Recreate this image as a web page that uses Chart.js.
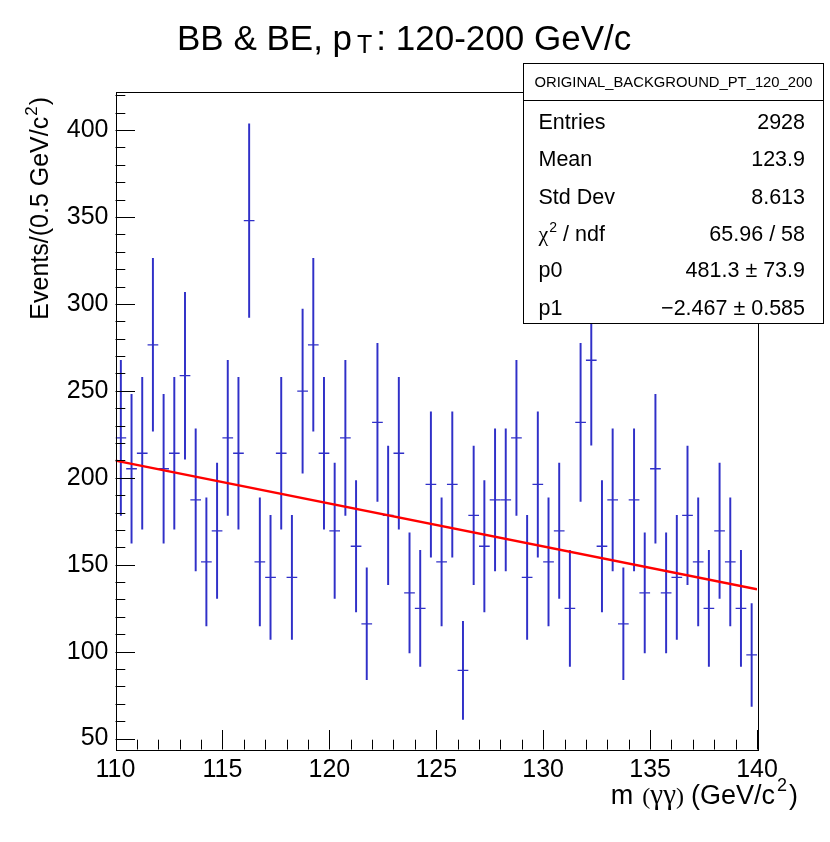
<!DOCTYPE html>
<html>
<head>
<meta charset="utf-8">
<script src="https://cdn.jsdelivr.net/npm/chart.js@4.4.1/dist/chart.umd.min.js"></script>
<style>
  html, body { margin: 0; padding: 0; background: #fff; }
  canvas { display: block; }
</style>
</head>
<body>
<canvas id="massChart" width="830" height="842" style="width:830px;height:842px"></canvas>
<script>
// bin centres of m(gg), 0.5 GeV wide bins
const binCenters = [
  110.25, 110.75, 111.25, 111.75, 112.25, 112.75, 113.25, 113.75, 114.25, 114.75,
  115.25, 115.75, 116.25, 116.75, 117.25, 117.75, 118.25, 118.75, 119.25, 119.75,
  120.25, 120.75, 121.25, 121.75, 122.25, 122.75, 123.25, 123.75, 124.25, 124.75,
  125.25, 125.75, 126.25, 126.75, 127.25, 127.75, 128.25, 128.75, 129.25, 129.75,
  130.25, 130.75, 131.25, 131.75, 132.25, 132.75, 133.25, 133.75, 134.25, 134.75,
  135.25, 135.75, 136.25, 136.75, 137.25, 137.75, 138.25, 138.75, 139.25, 139.75
];
const binWidth = 0.5;

// events per bin
const counts = [
  223.0, 205.2, 214.1, 276.5, 205.2, 214.1, 258.7, 187.3, 151.6, 169.5,
  223.0, 214.1, 347.9, 151.6, 142.7, 214.1, 142.7, 249.8, 276.5, 214.1,
  169.5, 223.0, 160.6, 116.0, 231.9, 178.4, 214.1, 133.8, 124.9, 196.2,
  151.6, 196.2, 89.2, 178.4, 160.6, 187.3, 187.3, 223.0, 142.7, 196.2,
  151.6, 169.5, 124.9, 231.9, 267.6, 160.6, 187.3, 116.0, 187.3, 133.8,
  205.2, 133.8, 142.7, 178.4, 151.6, 124.9, 169.5, 151.6, 124.9, 98.1
];

// half length of the error bars
const errors = [
  44.6, 42.8, 43.7, 49.7, 42.8, 43.7, 48.0, 40.9, 36.8, 38.9,
  44.6, 43.7, 55.7, 36.8, 35.7, 43.7, 35.7, 47.2, 49.7, 43.7,
  38.9, 44.6, 37.8, 32.2, 45.5, 39.9, 43.7, 34.5, 33.4, 41.8,
  36.8, 41.8, 28.2, 39.9, 37.8, 40.9, 40.9, 44.6, 35.7, 41.8,
  36.8, 38.9, 33.4, 45.5, 48.9, 37.8, 40.9, 32.2, 40.9, 34.5,
  42.8, 34.5, 35.7, 39.9, 36.8, 33.4, 38.9, 36.8, 33.4, 29.6
];

// linear fit p0 + p1*x, end points
const fitX = [110, 140];
const fitY = [209.9, 135.9];

const xTickLabels = [110, 115, 120, 125, 130, 135, 140];
const yTickLabels = [50, 100, 150, 200, 250, 300, 350, 400];

const statsTitle = 'ORIGINAL_BACKGROUND_PT_120_200';
const statsRows = [
  ['Entries', '2928'],
  ['Mean', '123.9'],
  ['Std Dev', '8.613'],
  ['chi2', '65.96 / 58'],
  ['p0', '481.3 \u00b1 73.9'],
  ['p1', '\u22122.467 \u00b1 0.585']
];

const SANS = '"Liberation Sans", Arial, Helvetica, sans-serif';
const SERIF = '"Liberation Serif", "Times New Roman", serif';
const BLUE = 'rgb(48,48,200)';

const errorBars = counts.map((v, i) => ({ x: binCenters[i], y: [v - errors[i], v + errors[i]] }));
const markers = counts.map((v, i) => ({ x: binCenters[i], y: v }));
const fitLine = fitX.map((x, i) => ({ x: x, y: fitY[i] }));

// frame, ticks inside the frame, titles and stats box (ROOT look)
const rootDecor = {
  id: 'rootDecor',
  afterDatasetsDraw(chart) {
    const ctx = chart.ctx;
    const a = chart.chartArea;
    const xs = chart.scales.x, ys = chart.scales.y;
    ctx.save();
    ctx.strokeStyle = '#000';
    ctx.lineWidth = 1;

    // ticks
    ctx.beginPath();
    for (let v = 110; v <= 140; v += 1) {
      const px = Math.round(xs.getPixelForValue(v)) + 0.5;
      const len = (v % 5 === 0) ? 19.5 : 9.8;
      ctx.moveTo(px, a.bottom);
      ctx.lineTo(px, a.bottom - len);
    }
    for (let v = 50; v <= 420; v += 10) {
      const py = Math.round(ys.getPixelForValue(v)) + 0.5;
      const len = (v % 50 === 0) ? 19.5 : 9.8;
      ctx.moveTo(a.left, py);
      ctx.lineTo(a.left + len, py);
    }
    ctx.stroke();

    // frame
    ctx.strokeRect(Math.round(a.left) + 0.5, Math.round(a.top) + 0.5,
      Math.round(a.right - a.left), Math.round(a.bottom - a.top));

    ctx.fillStyle = '#000';
    ctx.textAlign = 'left';
    ctx.textBaseline = 'alphabetic';

    // main title
    let x = 177;
    ctx.font = '35px ' + SANS;
    ctx.fillText('BB & BE, p', x, 50);
    x += ctx.measureText('BB & BE, p').width + 5;
    ctx.font = '25px ' + SANS;
    ctx.fillText('T', x, 53);
    x += ctx.measureText('T').width + 4;
    ctx.font = '35px ' + SANS;
    ctx.fillText(': 120-200 GeV/c', x, 50);

    // y title, rotated, aligned to the top of the axis
    ctx.save();
    ctx.translate(47.5, 97);
    ctx.rotate(-Math.PI / 2);
    ctx.font = '25px ' + SANS;
    const y1 = 'Events/(0.5 GeV/c', y3 = ')';
    const w1 = ctx.measureText(y1).width, w3 = ctx.measureText(y3).width;
    ctx.font = '17px ' + SANS;
    const w2 = ctx.measureText('2').width;
    let tx = -(w1 + w2 + w3 + 2);
    ctx.font = '25px ' + SANS;
    ctx.fillText(y1, tx, 0);
    tx += w1 + 1;
    ctx.font = '17px ' + SANS;
    ctx.fillText('2', tx, -11);
    tx += w2 + 1;
    ctx.font = '25px ' + SANS;
    ctx.fillText(y3, tx, 0);
    ctx.restore();

    // x title, right aligned past the frame
    const parts = [
      { t: 'm', f: '27px ' + SANS, dy: 0, gap: 9 },
      { t: '(', f: '24px ' + SERIF, dy: 0, gap: 0 },
      { t: '\u03b3\u03b3', f: '29px ' + SERIF, dy: 0, gap: 0 },
      { t: ')', f: '24px ' + SERIF, dy: 0, gap: 7 },
      { t: '(GeV/c', f: '27px ' + SANS, dy: 0, gap: 2 },
      { t: '2', f: '18px ' + SANS, dy: -13, gap: 2 },
      { t: ')', f: '27px ' + SANS, dy: 0, gap: 0 }
    ];
    let total = 0;
    parts.forEach(p => { ctx.font = p.f; p.w = ctx.measureText(p.t).width; total += p.w + p.gap; });
    x = 798 - total;
    parts.forEach(p => { ctx.font = p.f; ctx.fillText(p.t, x, 804 + p.dy); x += p.w + p.gap; });

    // stats box
    const bx = 523.5, by = 63.5, bw = 300, bh = 260;
    ctx.fillStyle = '#fff';
    ctx.fillRect(bx, by, bw, bh);
    ctx.strokeRect(bx, by, bw, bh);
    ctx.beginPath();
    ctx.moveTo(bx, 100.5);
    ctx.lineTo(bx + bw, 100.5);
    ctx.stroke();
    ctx.fillStyle = '#000';
    ctx.font = '14.8px ' + SANS;
    ctx.textAlign = 'center';
    ctx.fillText(statsTitle, bx + bw / 2, 87);

    const baselines = [128.5, 166, 203.5, 240.5, 277, 314.5];
    statsRows.forEach((r, i) => {
      const yb = baselines[i];
      ctx.textAlign = 'left';
      if (r[0] === 'chi2') {
        ctx.font = '22px ' + SERIF;
        ctx.fillText('\u03c7', 538.5, yb);
        let cx = 538.5 + ctx.measureText('\u03c7').width + 1;
        ctx.font = '14px ' + SANS;
        ctx.fillText('2', cx, yb - 9);
        cx += ctx.measureText('2').width;
        ctx.font = '21.5px ' + SANS;
        ctx.fillText(' / ndf', cx, yb);
      } else {
        ctx.font = '21.5px ' + SANS;
        ctx.fillText(r[0], 538.5, yb);
      }
      ctx.font = '21.5px ' + SANS;
      ctx.textAlign = 'right';
      ctx.fillText(r[1], 805, yb);
    });
    ctx.restore();
  }
};

new Chart(document.getElementById('massChart').getContext('2d'), {
  type: 'scatter',
  data: {
    datasets: [
      {
        type: 'line',
        data: fitLine,
        borderColor: '#ff0000',
        borderWidth: 2.4,
        pointRadius: 0,
        fill: false,
        order: 0
      },
      {
        type: 'scatter',
        data: markers,
        pointStyle: 'line',
        borderColor: BLUE,
        borderWidth: 1.3,
        // half a bin in pixels, so the marker spans the full bin
        pointRadius: (c) => {
          const s = c.chart.scales.x;
          return s ? Math.abs(s.getPixelForValue(110 + binWidth) - s.getPixelForValue(110)) / 2 : 5;
        },
        order: 1
      },
      {
        type: 'bar',
        data: errorBars,
        backgroundColor: BLUE,
        borderWidth: 0,
        barThickness: 1.3,
        order: 2
      }
    ]
  },
  options: {
    responsive: false,
    animation: false,
    events: [],
    devicePixelRatio: 1,
    layout: { padding: { left: 0, top: 92, right: 73, bottom: 0 } },
    plugins: {
      legend: { display: false },
      tooltip: { enabled: false },
      title: { display: false }
    },
    scales: {
      x: {
        type: 'linear',
        min: 110,
        max: 140,
        offset: false,
        grid: { display: false, drawTicks: false },
        border: { display: false },
        afterBuildTicks: (s) => { s.ticks = xTickLabels.map(v => ({ value: v })); },
        afterFit: (s) => { s.height = 842 - 749.5; },
        ticks: {
          autoSkip: false,
          maxRotation: 0,
          padding: 6,
          color: '#000',
          font: { family: SANS, size: 25 }
        }
      },
      y: {
        type: 'linear',
        min: 43.7,
        max: 421.9,
        grid: { display: false, drawTicks: false },
        border: { display: false },
        afterBuildTicks: (s) => { s.ticks = yTickLabels.map(v => ({ value: v })); },
        afterFit: (s) => { s.width = 115.5; },
        ticks: {
          autoSkip: false,
          padding: 7,
          color: '#000',
          font: { family: SANS, size: 25 }
        }
      }
    }
  },
  plugins: [rootDecor]
});
</script>
</body>
</html>
